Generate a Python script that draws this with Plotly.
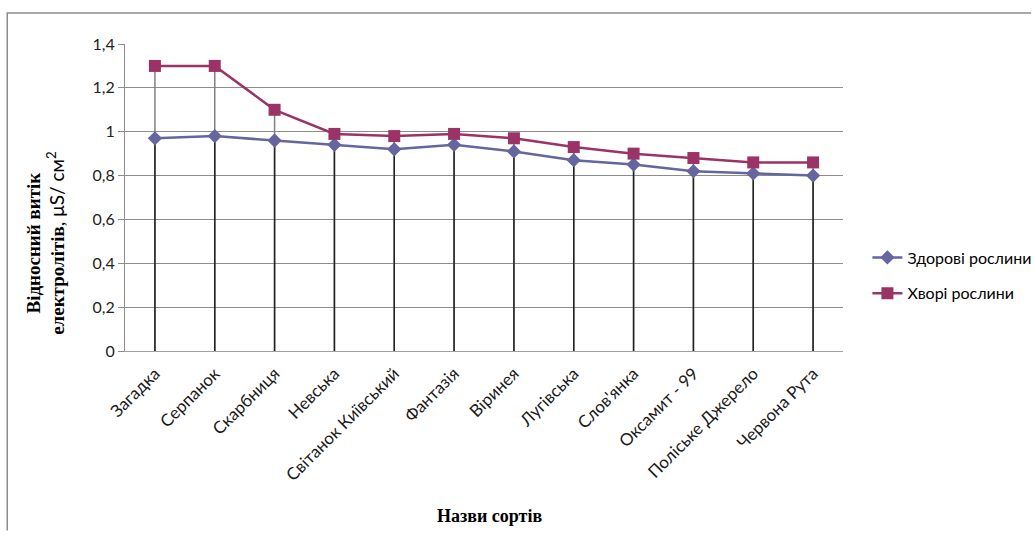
import plotly.graph_objects as go

# Варіети та значення відносного витоку електролітів
varieties = [
    "Загадка", "Серпанок", "Скарбниця", "Невська", "Світанок Київський",
    "Фантазія", "Віринея", "Лугівська", "Слов'янка", "Оксамит - 99",
    "Поліське Джерело", "Червона Рута",
]
healthy = [0.97, 0.98, 0.96, 0.94, 0.92, 0.94, 0.91, 0.87, 0.85, 0.82, 0.81, 0.80]
diseased = [1.30, 1.30, 1.10, 0.99, 0.98, 0.99, 0.97, 0.93, 0.90, 0.88, 0.86, 0.86]

y_ticks = [0, 0.2, 0.4, 0.6, 0.8, 1.0, 1.2, 1.4]
y_tick_text = ["0", "0,2", "0,4", "0,6", "0,8", "1", "1,2", "1,4"]

BLUE = "#65659F"
RED = "#9B3366"
SANS = "Lato"
SERIF = "Liberation Serif"

fig = go.Figure()

# Drop lines: grey from the upper series to the axis, dark from the lower one
hi_x, hi_y, lo_x, lo_y = [], [], [], []
for name, h, d in zip(varieties, healthy, diseased):
    hi_x += [name, name, None]
    hi_y += [0, max(h, d), None]
    lo_x += [name, name, None]
    lo_y += [0, min(h, d), None]

fig.add_trace(go.Scatter(x=hi_x, y=hi_y, mode="lines", showlegend=False,
                         line=dict(color="#808080", width=1.5), hoverinfo="skip"))
fig.add_trace(go.Scatter(x=lo_x, y=lo_y, mode="lines", showlegend=False,
                         line=dict(color="#222222", width=1.5), hoverinfo="skip"))

fig.add_trace(go.Scatter(
    x=varieties, y=healthy, mode="lines+markers", name="Здорові рослини",
    line=dict(color=BLUE, width=2.5),
    marker=dict(symbol="diamond", size=11, color=BLUE),
    legendgroup="a",
))
fig.add_trace(go.Scatter(
    x=varieties, y=diseased, mode="lines+markers", name="Хворі рослини",
    line=dict(color=RED, width=2.5),
    marker=dict(symbol="square", size=12, color=RED),
    legendgroup="b",
))

border = dict(color="#8c8c8c", width=1.5)

fig.update_layout(
    width=1035, height=535,
    margin=dict(l=125, r=192, t=44, b=184, autoexpand=False),
    paper_bgcolor="white", plot_bgcolor="white",
    font=dict(family=SANS, size=14, color="#000000"),
    legend=dict(
        x=1.034, y=0.36, xanchor="left", yanchor="top",
        font=dict(family=SANS, size=16, color="#000000"),
        tracegroupgap=12, traceorder="grouped",
        bgcolor="rgba(0,0,0,0)",
    ),
    xaxis=dict(
        type="category", range=[-0.5, 11.5],
        showgrid=False, showline=True, linecolor="#a0a0a0", linewidth=1,
        ticks="", tickangle=-45, ticklabelstandoff=5,
        tickfont=dict(family=SANS, size=17, color="#1a1a1a"),
        zeroline=False, automargin=False,
    ),
    yaxis=dict(
        range=[0, 1.4], tickvals=y_ticks, ticktext=y_tick_text,
        showgrid=True, gridcolor="#8c8c8c", gridwidth=1,
        showline=True, linecolor="#8c8c8c", linewidth=1,
        ticks="outside", ticklen=6, tickcolor="#8c8c8c",
        tickfont=dict(family=SANS, size=16, color="#222222"),
        zeroline=False, automargin=False,
    ),
    shapes=[
        # chart area border: left and top edges, kept inside the canvas
        dict(type="path", xref="paper", yref="paper",
             path="M -0.164,-0.585 L -0.164,1.101 L 1.262,1.101",
             line=border, fillcolor="rgba(0,0,0,0)"),
    ],
    annotations=[
        dict(
            text=("<b>Відносний витік</b><br><b>електролітів</b>, "
                  f"<span style='font-family:{SANS};'>μS/ см<sup>2</sup></span>"),
            xref="paper", yref="paper", x=-0.111, y=0.35,
            xanchor="center", yanchor="middle", textangle=-90,
            showarrow=False, align="center",
            font=dict(family=SERIF, size=19, color="#000000"),
        ),
        dict(
            text="<b>Назви сортів</b>",
            xref="paper", yref="paper", x=0.508, y=-0.537,
            xanchor="center", yanchor="middle", showarrow=False,
            font=dict(family=SERIF, size=18, color="#000000"),
        ),
    ],
)

fig.write_html("out.html")
